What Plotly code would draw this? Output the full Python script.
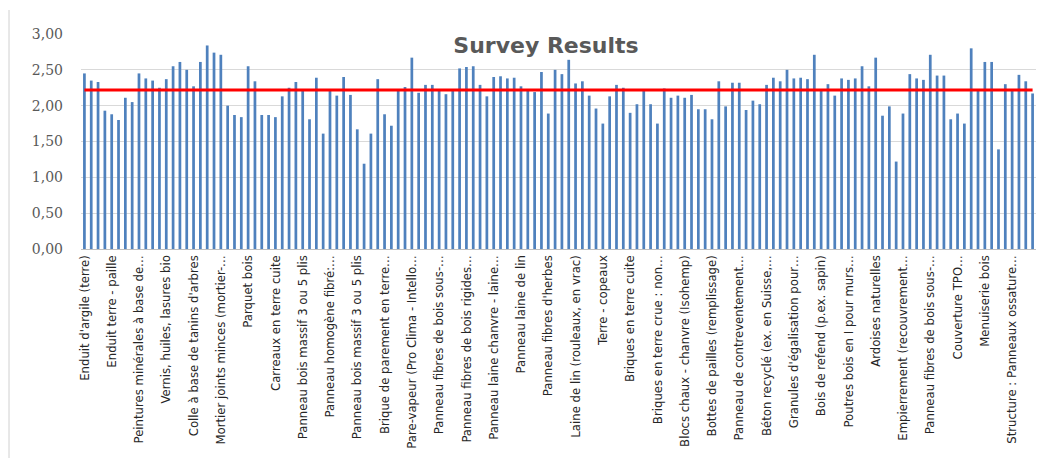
import plotly.graph_objects as go

labels = [
    "Enduit d'argile (terre)",
    "Enduit terre - paille",
    "Peintures minérales à base de…",
    "Vernis, huiles, lasures bio",
    "Colle à base de tanins d'arbres",
    "Mortier joints minces (mortier-…",
    "Parquet bois",
    "Carreaux en terre cuite",
    "Panneau bois massif 3 ou 5 plis",
    "Panneau homogène fibré:…",
    "Panneau bois massif 3 ou 5 plis",
    "Brique de parement en terre…",
    "Pare-vapeur (Pro Clima - Intello…",
    "Panneau fibres de bois sous-…",
    "Panneau fibres de bois rigides…",
    "Panneau laine chanvre - laine…",
    "Panneau laine de lin",
    "Panneau fibres d'herbes",
    "Laine de lin (rouleaux, en vrac)",
    "Terre - copeaux",
    "Briques en terre cuite",
    "Briques en terre crue : non…",
    "Blocs chaux - chanvre (Isohemp)",
    "Bottes de pailles (remplissage)",
    "Panneau de contreventement…",
    "Béton recyclé (ex. en Suisse,…",
    "Granules d'égalisation pour…",
    "Bois de refend (p.ex. sapin)",
    "Poutres bois en I pour murs…",
    "Ardoises naturelles",
    "Empierrement (recouvrement…",
    "Panneau fibres de bois sous-…",
    "Couverture TPO…",
    "Menuiserie bois",
    "Structure : Panneaux ossature…",
]

scores = [
    2.45, 2.35, 2.33, 1.93, 1.88, 1.80, 2.11, 2.05, 2.45, 2.38,
    2.35, 2.25, 2.37, 2.55, 2.61, 2.50, 2.27, 2.61, 2.84, 2.74,
    2.71, 2.00, 1.87, 1.84, 2.55, 2.34, 1.87, 1.87, 1.84, 2.13,
    2.25, 2.33, 2.22, 1.81, 2.39, 1.61, 2.22, 2.14, 2.40, 2.15,
    1.67, 1.19, 1.61, 2.37, 1.88, 1.72, 2.22, 2.26, 2.67, 2.18,
    2.29, 2.29, 2.22, 2.16, 2.22, 2.52, 2.54, 2.55, 2.29, 2.13,
    2.40, 2.41, 2.38, 2.39, 2.27, 2.21, 2.19, 2.47, 1.89, 2.50,
    2.44, 2.64, 2.31, 2.34, 2.14, 1.96, 1.75, 2.13, 2.29, 2.25,
    1.90, 2.02, 2.21, 2.02, 1.75, 2.24, 2.11, 2.14, 2.11, 2.15,
    1.95, 1.95, 1.81, 2.34, 1.99, 2.32, 2.32, 1.94, 2.07, 2.02,
    2.29, 2.39, 2.34, 2.50, 2.38, 2.39, 2.37, 2.71, 2.21, 2.30,
    2.14, 2.38, 2.36, 2.38, 2.55, 2.27, 2.67, 1.86, 1.99, 1.22,
    1.89, 2.44, 2.38, 2.36, 2.71, 2.42, 2.42, 1.81, 1.89, 1.75,
    2.80, 2.21, 2.61, 2.61, 1.39, 2.30, 2.21, 2.43, 2.34, 2.17,
]

average = 2.22
label_step = 4

positions = list(range(len(scores)))
tick_positions = positions[::label_step]

W, H = 1040, 452

fig = go.Figure()
fig.add_trace(go.Bar(
    x=positions, y=scores,
    marker=dict(color="#4f81bd", line=dict(width=0)),
    showlegend=False,
))
fig.add_trace(go.Scatter(
    x=positions, y=[average] * len(positions),
    mode="lines", line=dict(color="#ff0000", width=3),
    showlegend=False,
))

fig.update_layout(
    width=W, height=H,
    margin=dict(l=73, r=12, t=26, b=211),
    paper_bgcolor="white", plot_bgcolor="white",
    separators=", ",
    bargap=0.6,
    title=dict(
        text="<b>Survey Results</b>",
        x=538 / W, xanchor="center", xref="container",
        y=1 - 37 / H, yanchor="middle", yref="container",
        font=dict(family="DejaVu Sans", size=22, color="#595959"),
    ),
    xaxis=dict(
        range=[-0.5, len(scores) - 0.5],
        tickmode="array", tickvals=tick_positions, ticktext=labels,
        tickangle=-90,
        tickfont=dict(family="DejaVu Sans Condensed, Roboto", size=13, color="#262626"),
        showgrid=False, zeroline=False,
        showline=True, linecolor="#bfbfbf", linewidth=1,
        ticks="", automargin=False,
    ),
    yaxis=dict(
        range=[0, 3], dtick=0.5, tickformat=".2f",
        tickfont=dict(family="DejaVu Serif", size=14, color="#595959"),
        showgrid=True, gridcolor="#d9d9d9", gridwidth=1,
        zeroline=False, showline=False, ticks="", automargin=False,
        ticklabelstandoff=17,
    ),
    shapes=[dict(
        type="line", xref="paper", yref="paper",
        x0=-72 / 955, x1=-72 / 955, y0=-209 / 215, y1=1 + 24 / 215,
        line=dict(color="#d0d0d0", width=1),
        layer="below",
    )],
)

fig.write_html("out.html")
